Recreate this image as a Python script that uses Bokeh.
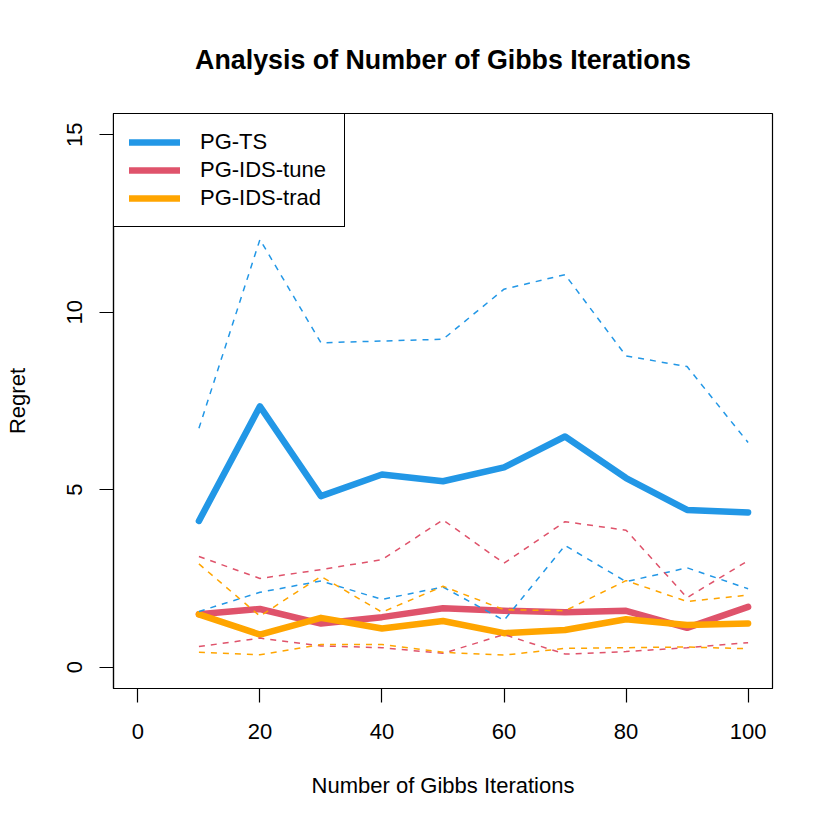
from bokeh.plotting import figure
from bokeh.models import Range1d, FixedTicker, Legend, LegendItem
from bokeh.embed import file_html
from bokeh.resources import INLINE

iterations = [10, 20, 30, 40, 50, 60, 70, 80, 90, 100]

ts_mean = [4.12, 7.35, 4.82, 5.43, 5.24, 5.63, 6.50, 5.33, 4.43, 4.36]
ts_upper = [6.73, 12.05, 9.14, 9.19, 9.24, 10.65, 11.06, 8.77, 8.47, 6.33]
ts_lower = [1.57, 2.11, 2.43, 1.91, 2.26, 1.32, 3.43, 2.41, 2.80, 2.21]

tune_mean = [1.49, 1.64, 1.23, 1.41, 1.66, 1.59, 1.55, 1.59, 1.11, 1.70]
tune_upper = [3.12, 2.50, 2.75, 3.03, 4.15, 2.93, 4.10, 3.86, 1.96, 3.00]
tune_lower = [0.58, 0.82, 0.60, 0.55, 0.39, 0.92, 0.37, 0.44, 0.55, 0.69]

trad_mean = [1.49, 0.92, 1.39, 1.09, 1.30, 0.96, 1.05, 1.35, 1.19, 1.23]
trad_upper = [2.91, 1.44, 2.56, 1.55, 2.28, 1.62, 1.59, 2.44, 1.85, 2.03]
trad_lower = [0.42, 0.35, 0.64, 0.64, 0.42, 0.34, 0.53, 0.55, 0.57, 0.52]

series_names = ["PG-TS", "PG-IDS-tune", "PG-IDS-trad"]
series_colors = ["#2297E6", "#DF536B", "#FFA500"]

x_ticks = [0, 20, 40, 60, 80, 100]
y_ticks = [0, 5, 10, 15]

FONT = "Liberation Sans"

p = figure(width=814, height=814, output_backend="svg", toolbar_location=None,
           x_range=Range1d(-4, 104), y_range=Range1d(-0.6, 15.6),
           min_border_left=113, min_border_right=42,
           min_border_top=113, min_border_bottom=126,
           title="Analysis of Number of Gibbs Iterations")

p.title.align = "center"
p.title.text_font = FONT
p.title.text_font_size = "26.8px"
p.title.text_font_style = "bold"
p.title.text_color = "black"
p.title.standoff = 78

p.xgrid.visible = False
p.ygrid.visible = False
p.outline_line_color = "black"
p.outline_line_width = 1.2
p.outline_line_alpha = 1

p.xaxis.ticker = FixedTicker(ticks=x_ticks)
p.yaxis.ticker = FixedTicker(ticks=y_ticks)
for ax in (p.xaxis, p.yaxis):
    ax.major_tick_in = 0
    ax.major_tick_out = 14
    ax.minor_tick_in = 0
    ax.minor_tick_out = 0
    ax.major_tick_line_width = 1.2
    ax.major_tick_line_color = "black"
    ax.axis_line_width = 1.2
    ax.axis_line_color = "black"
    ax.major_label_text_font = FONT
    ax.major_label_text_font_size = "22px"
    ax.major_label_text_color = "black"
    ax.axis_label_text_font = FONT
    ax.axis_label_text_font_size = "22px"
    ax.axis_label_text_font_style = "normal"
    ax.axis_label_text_color = "black"

p.xaxis.axis_label = "Number of Gibbs Iterations"
p.yaxis.axis_label = "Regret"
p.xaxis.major_label_standoff = 21
p.yaxis.major_label_standoff = 17
p.yaxis.major_label_orientation = "vertical"
p.xaxis.axis_label_standoff = 31
p.yaxis.axis_label_standoff = 35

means = [ts_mean, tune_mean, trad_mean]
uppers = [ts_upper, tune_upper, trad_upper]
lowers = [ts_lower, tune_lower, trad_lower]

main_renderers = []
for m, c in zip(means, series_colors):
    r = p.line(iterations, m, line_color=c, line_width=6.5, line_cap="round", line_join="round")
    main_renderers.append(r)

for up, lo, c in zip(uppers, lowers, series_colors):
    p.line(iterations, up, line_color=c, line_width=1.5, line_dash="6 6")
    p.line(iterations, lo, line_color=c, line_width=1.5, line_dash="6 6")

legend = Legend(items=[LegendItem(label=n, renderers=[r]) for n, r in zip(series_names, main_renderers)],
                location="top_left")
legend.margin = 0
legend.padding = 15
legend.spacing = 2
legend.glyph_width = 51
legend.glyph_height = 22
legend.label_standoff = 20
legend.label_width = 129
legend.label_text_font = FONT
legend.label_text_font_size = "22px"
legend.label_text_color = "black"
legend.border_line_color = "black"
legend.border_line_width = 1.2
legend.border_line_alpha = 1
legend.background_fill_color = "white"
legend.background_fill_alpha = 1
p.add_layout(legend)

open("out.html", "w").write(file_html(p, INLINE))
